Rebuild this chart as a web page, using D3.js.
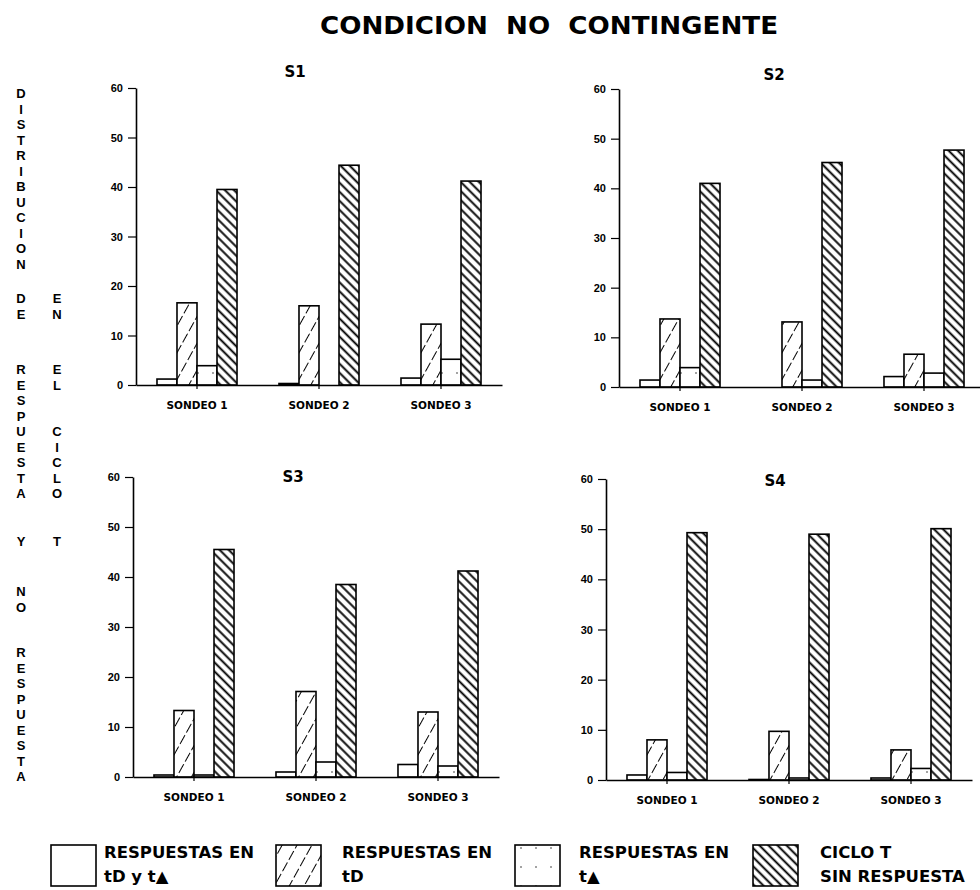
<!DOCTYPE html>
<html>
<head>
<meta charset="utf-8">
<script src="https://cdn.jsdelivr.net/npm/d3@7"></script>
<style>
  html, body { margin: 0; padding: 0; background: #fff; }
  svg { display: block; }
  text { fill: #000; }
</style>
</head>
<body>
<svg id="chart" width="980" height="890"></svg>
<script>
// ---------------- DATA ----------------
const chartTitle = "CONDICION  NO  CONTINGENTE";
const panelNames = ["S1", "S2", "S3", "S4"];
const sondeos = ["SONDEO 1", "SONDEO 2", "SONDEO 3"];
const seriesKeys = ["tDtA", "tD", "tA", "ciclo"];
// values per panel (S1..S4), per sondeo (1..3)
const respTDyTA   = [[1.2, 0.3, 1.4], [1.4, 0.0, 2.1], [0.4, 1.0, 2.5], [1.0, 0.1, 0.4]];
const respTD      = [[16.6, 16.0, 12.3], [13.7, 13.1, 6.6], [13.3, 17.1, 13.0], [8.0, 9.7, 6.0]];
const respTA      = [[3.9, 0.0, 5.2], [3.9, 1.4, 2.8], [0.4, 3.0, 2.2], [1.5, 0.4, 2.3]];
const cicloSinResp = [[39.5, 44.4, 41.2], [41.0, 45.2, 47.7], [45.5, 38.5, 41.2], [49.3, 49.0, 50.1]];
const yTicks = [0, 10, 20, 30, 40, 50, 60];
const legendLine1 = ["RESPUESTAS EN", "RESPUESTAS EN", "RESPUESTAS EN", "CICLO T"];
const legendLine2 = ["tD y t▲", "tD", "t▲", "SIN RESPUESTA"];
const sideCol1 = ["DISTRIBUCION", "DE", "RESPUESTA", "Y", "NO", "RESPUESTA"];
const sideCol2 = ["EN", "EL", "CICLO", "T"];

// ---------------- LAYOUT ----------------
const panelLayout = [
  { ax: 136, y0: 385, y60: 88,  tx: 295, ty: 77 },
  { ax: 619, y0: 387, y60: 89,  tx: 774, ty: 80 },
  { ax: 133, y0: 777, y60: 477, tx: 293, ty: 482 },
  { ax: 606, y0: 780, y60: 479, tx: 775, ty: 486 }
];
const panelWidth = 366;
const side1Starts = [93, 298, 369, 541, 591, 652];
const side2Starts = [298, 369, 431, 541];
const sideStep = 15.5;
const legendBoxX = [51, 276, 515, 753];
const legendTextX = [104, 342, 579, 820];

const svg = d3.select("#chart");
const defs = svg.append("defs");

// patterns
const pFwd = defs.append("pattern").attr("id", "hatchFwd")
  .attr("patternUnits", "userSpaceOnUse").attr("width", 13).attr("height", 13)
  .attr("patternTransform", "rotate(-61)");
pFwd.append("rect").attr("width", 13).attr("height", 13).attr("fill", "#fff");
pFwd.append("line").attr("x1", 0).attr("x2", 13).attr("y1", 6.5).attr("y2", 6.5)
  .attr("stroke", "#000").attr("stroke-width", 1.2).attr("stroke-dasharray", "9 3");

const pBack = defs.append("pattern").attr("id", "hatchBack")
  .attr("patternUnits", "userSpaceOnUse").attr("width", 6.4).attr("height", 6.4)
  .attr("patternTransform", "rotate(45)");
pBack.append("rect").attr("width", 6.4).attr("height", 6.4).attr("fill", "#fff");
pBack.append("line").attr("x1", 0).attr("x2", 6.4).attr("y1", 3.2).attr("y2", 3.2)
  .attr("stroke", "#000").attr("stroke-width", 1.9);

const pDot = defs.append("pattern").attr("id", "dots")
  .attr("patternUnits", "userSpaceOnUse").attr("width", 15).attr("height", 19);
pDot.append("rect").attr("width", 15).attr("height", 19).attr("fill", "#fff");
pDot.append("circle").attr("cx", 11).attr("cy", 12).attr("r", 0.7).attr("fill", "#000");

const fills = { tDtA: "#fff", tD: "url(#hatchFwd)", tA: "url(#dots)", ciclo: "url(#hatchBack)" };
const seriesArrays = { tDtA: respTDyTA, tD: respTD, tA: respTA, ciclo: cicloSinResp };

// title
svg.append("text")
  .attr("x", 549).attr("y", 34)
  .attr("text-anchor", "middle")
  .attr("font-family", "DejaVu Sans")
  .attr("font-weight", "bold")
  .attr("font-size", 25)
  .style("white-space", "pre")
  .attr("textLength", 458)
  .attr("lengthAdjust", "spacingAndGlyphs")
  .text(chartTitle);

// panels
panelNames.forEach((name, pi) => {
  const L = panelLayout[pi];
  const g = svg.append("g");
  const y = d3.scaleLinear().domain([0, 60]).range([L.y0, L.y60]);
  const x0 = d3.scaleBand().domain(sondeos).range([L.ax, L.ax + panelWidth])
    .paddingInner(0.344).paddingOuter(0.172);
  const x1 = d3.scaleBand().domain(seriesKeys).range([0, x0.bandwidth()]).padding(0);

  // bars
  sondeos.forEach((s, si) => {
    const gg = g.append("g").attr("transform", `translate(${x0(s)},0)`);
    gg.selectAll("rect")
      .data(seriesKeys.map(k => ({ k, v: seriesArrays[k][pi][si] })))
      .join("rect")
      .attr("x", d => x1(d.k))
      .attr("width", x1.bandwidth())
      .attr("y", d => y(d.v))
      .attr("height", d => y(0) - y(d.v))
      .attr("fill", d => fills[d.k])
      .attr("stroke", "#000")
      .attr("stroke-width", d => d.v > 0 ? 1.6 : 0);
  });

  // y axis
  const ya = g.append("g").attr("transform", `translate(${L.ax},0)`)
    .call(d3.axisLeft(y).tickValues(yTicks).tickSize(8).tickSizeOuter(0).tickPadding(5));
  ya.select(".domain").attr("stroke-width", 1.6);
  ya.selectAll(".tick line").attr("stroke-width", 1.2);
  ya.selectAll(".tick text")
    .attr("font-family", "Liberation Sans").attr("font-weight", "bold").attr("font-size", 11);

  // x axis
  const xa = g.append("g").attr("transform", `translate(0,${L.y0})`)
    .call(d3.axisBottom(x0).tickSize(4).tickSizeOuter(0).tickPadding(13));
  xa.select(".domain").attr("stroke-width", 1.6);
  xa.selectAll(".tick line").attr("stroke-width", 1.2);
  xa.selectAll(".tick text")
    .attr("font-family", "DejaVu Sans").attr("font-weight", "bold").attr("font-size", 10.5);

  // panel title
  g.append("text").attr("x", L.tx).attr("y", L.ty).attr("text-anchor", "middle")
    .attr("font-family", "DejaVu Sans").attr("font-weight", "bold").attr("font-size", 15)
    .text(name);
});

// vertical stacked side labels
function stack(words, starts, x) {
  words.forEach((w, wi) => {
    Array.from(w).forEach((ch, ci) => {
      svg.append("text")
        .attr("x", x).attr("y", starts[wi] + ci * sideStep + 5)
        .attr("text-anchor", "middle")
        .attr("font-family", "Liberation Sans").attr("font-weight", "bold").attr("font-size", 13)
        .text(ch);
    });
  });
}
stack(sideCol1, side1Starts, 21);
stack(sideCol2, side2Starts, 57);

// legend
seriesKeys.forEach((k, i) => {
  svg.append("rect")
    .attr("x", legendBoxX[i]).attr("y", 845).attr("width", 45).attr("height", 41)
    .attr("fill", fills[k]).attr("stroke", "#000").attr("stroke-width", 1.6);
  svg.append("text").attr("x", legendTextX[i]).attr("y", 858)
    .attr("font-family", "DejaVu Sans").attr("font-weight", "bold").attr("font-size", 16.5)
    .text(legendLine1[i]);
  svg.append("text").attr("x", legendTextX[i]).attr("y", 882)
    .attr("font-family", "DejaVu Sans").attr("font-weight", "bold").attr("font-size", 16.5)
    .text(legendLine2[i]);
});
</script>
</body>
</html>
